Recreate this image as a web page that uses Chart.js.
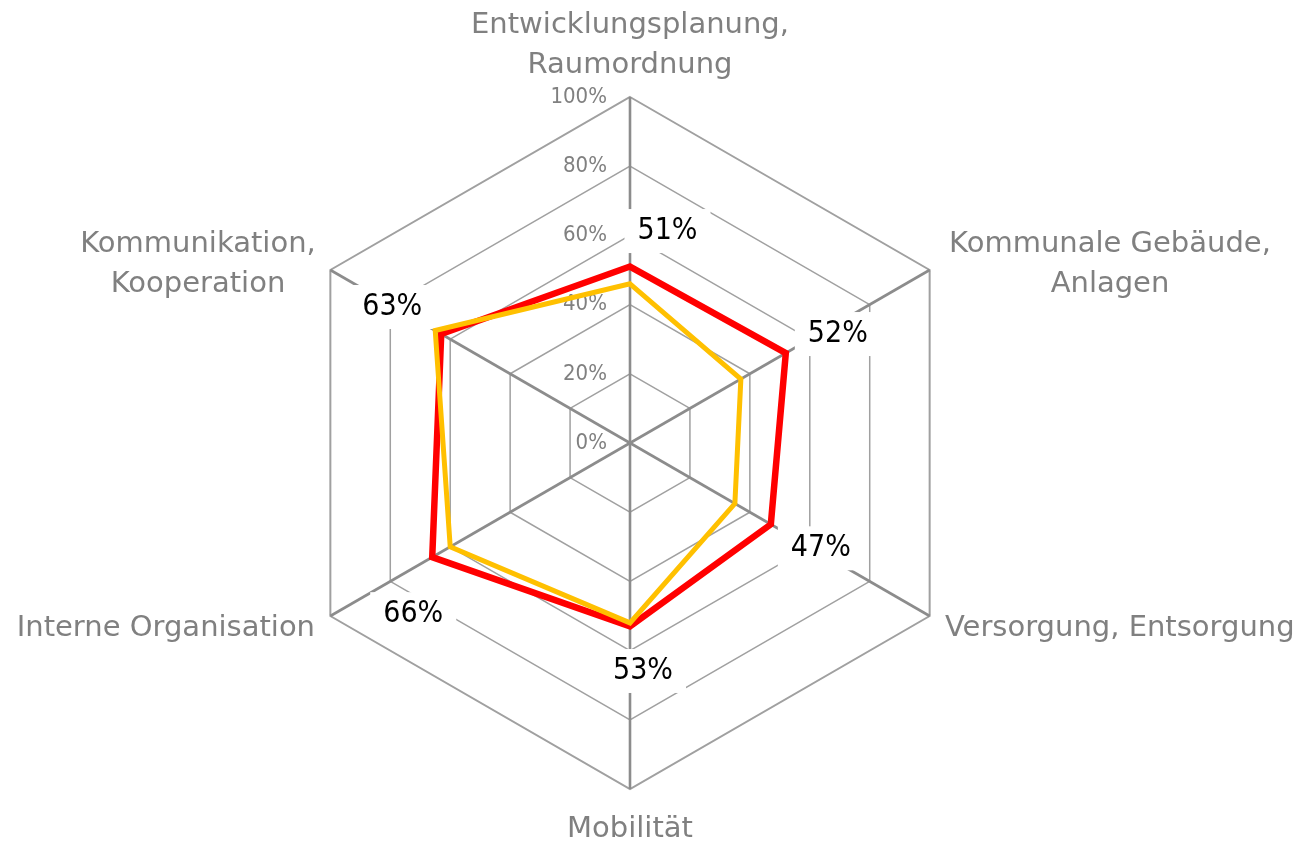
<!DOCTYPE html>
<html><head><meta charset="utf-8">
<script src="https://cdn.jsdelivr.net/npm/chart.js@4/dist/chart.umd.min.js"></script>
<style>html,body{margin:0;padding:0;background:#fff;}canvas{display:block}</style>
</head><body>
<canvas id="c" width="1300" height="841"></canvas>
<script>
// ---- data ----
const categories = [
  ["Entwicklungsplanung,", "Raumordnung"],
  ["Kommunale Gebäude,", "Anlagen"],
  ["Versorgung, Entsorgung"],
  ["Mobilität"],
  ["Interne Organisation"],
  ["Kommunikation,", "Kooperation"]
];
const seriesRed = [51, 52, 47, 53, 66, 63];
const seriesYellow = [46, 37, 35, 52, 60, 65];
const tickLabels = ["0%", "20%", "40%", "60%", "80%", "100%"];

// ---- style / layout ----
const catFont = '29px "DejaVu Sans"';
const valueFont = '30px "Liberation Sans Narrow", "DejaVu Sans Condensed", sans-serif';
const tickFont = '22px "Liberation Sans Narrow", "DejaVu Sans Condensed", sans-serif';
const catLayout = [
  {dx: 0, dy: -410, align: 'center'},
  {dx: 480, dy: -191, align: 'center'},
  {dx: 315, dy: 193, align: 'left'},
  {dx: 0, dy: 394, align: 'center'},
  {dx: -315, dy: 193, align: 'right'},
  {dx: -432, dy: -191, align: 'center'}
];
const catLineGap = 40;
const valueLabelOffsets = [[37.5, -35.5], [52, -19], [50, 24], [13, 44.6], [-19, 57], [-49, -27]];

function valueLabelPos(s, i) {
  const p = s.getPointPosition(i, s.getDistanceFromCenterForValue(seriesRed[i]));
  return {x: p.x + valueLabelOffsets[i][0], y: p.y + valueLabelOffsets[i][1]};
}

const overlay = {
  id: 'overlay',
  beforeDatasetsDraw(chart) {
    const s = chart.scales.r, ctx = chart.ctx;
    ctx.save();
    ctx.font = valueFont;
    seriesRed.forEach((v, i) => {
      const t = v + '%';
      const w = ctx.measureText(t).width;
      const p = valueLabelPos(s, i);
      ctx.fillStyle = '#ffffff';
      ctx.fillRect(p.x - w / 2 - 13, p.y - 22, w + 26, 44);
    });
    ctx.font = tickFont;
    ctx.fillStyle = '#808080';
    ctx.textAlign = 'right';
    ctx.textBaseline = 'middle';
    s.ticks.forEach((tk, k) => {
      const y = s.yCenter - s.getDistanceFromCenterForValue(tk.value);
      ctx.fillText(tickLabels[k], s.xCenter - 23, y);
    });
    ctx.restore();
  },
  afterDatasetsDraw(chart) {
    const s = chart.scales.r, ctx = chart.ctx;
    ctx.save();
    ctx.font = valueFont;
    ctx.fillStyle = '#000000';
    ctx.textAlign = 'center';
    ctx.textBaseline = 'middle';
    seriesRed.forEach((v, i) => {
      const p = valueLabelPos(s, i);
      ctx.fillText(v + '%', p.x, p.y);
    });
    ctx.font = catFont;
    ctx.fillStyle = '#808080';
    ctx.textBaseline = 'alphabetic';
    categories.forEach((lines, i) => {
      const L = catLayout[i];
      ctx.textAlign = L.align;
      lines.forEach((ln, j) => {
        ctx.fillText(ln, s.xCenter + L.dx, s.yCenter + L.dy + j * catLineGap);
      });
    });
    ctx.restore();
  }
};

new Chart(document.getElementById('c'), {
  type: 'radar',
  data: {
    labels: categories,
    datasets: [
      {data: seriesRed, borderColor: '#ff0000', borderWidth: 6.5, fill: false, order: 1},
      {data: seriesYellow, borderColor: '#ffc000', borderWidth: 5, fill: false, order: 0}
    ]
  },
  options: {
    responsive: false,
    devicePixelRatio: 1,
    animation: false,
    layout: {padding: {left: 284, right: 324, top: 97, bottom: 52}},
    plugins: {legend: {display: false}, tooltip: {enabled: false}},
    elements: {line: {tension: 0, borderJoinStyle: 'miter'}, point: {radius: 0, hoverRadius: 0}},
    scales: {
      r: {
        min: 0, max: 100,
        ticks: {stepSize: 20, display: false},
        pointLabels: {display: false},
        grid: {color: '#a0a0a0', lineWidth: c => (c.tick && c.tick.value === 100 ? 2 : 1.5)},
        angleLines: {color: '#8c8c8c', lineWidth: 2.6}
      }
    }
  },
  plugins: [overlay]
});
</script>
</body></html>
